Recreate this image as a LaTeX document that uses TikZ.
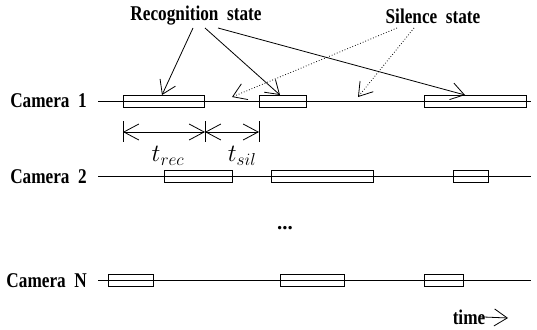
\documentclass[tikz,border=0pt]{standalone}
\usepackage{fontspec}
\setmainfont{Liberation Serif}
\usetikzlibrary{arrows.meta}
\newcommand{\cnd}[1]{\scalebox{0.82}[1]{#1}}
\begin{document}
\begin{tikzpicture}[x=1pt,y=-1pt,
  lbl/.style={font=\fontsize{21}{22}\selectfont\bfseries, inner sep=0pt},
  seg/.style={draw, line width=0.8pt, minimum height=12pt, inner sep=0pt, anchor=west},
  axis/.style={line width=0.8pt},
  tip/.style={-{Straight Barb[length=13pt,width=17pt,line width=0.8pt]}, line width=0.8pt},
  dtip/.style={tip, dotted},
  dim/.style={{Straight Barb[length=15pt,width=16pt,line width=0.8pt]}-{Straight Barb[length=15pt,width=16pt,line width=0.8pt]}, line width=0.8pt},
  mth/.style={font=\fontsize{23}{25}\selectfont, inner sep=0pt}]
\useasboundingbox (0,0) rectangle (537,329);

% titles
\node[lbl] (rs) at (196,16) {\cnd{Recognition\ \ state}};
\node[lbl] (ss) at (433,16) {\cnd{Silence\ \ state}};

% camera labels
\node[lbl, anchor=base east] (cam1) at (87,107) {\cnd{Camera\ \ 1}};
\node[lbl, anchor=base east] (cam2) at (87,183) {\cnd{Camera\ \ 2}};
\node[lbl, anchor=base east] (camN) at (87,287) {\cnd{Camera\ \ N}};

% timelines
\coordinate (l1s) at (98,101);  \coordinate (l1e) at (531,101);
\coordinate (l2s) at (98,176);  \coordinate (l2e) at (531,176);
\coordinate (lNs) at (98,280);  \coordinate (lNe) at (531,280);
\draw[axis] (l1s) -- (l1e);
\draw[axis] (l2s) -- (l2e);
\draw[axis] (lNs) -- (lNe);

% segments camera 1
\node[seg, minimum width=81pt] (c1a) at (123,101) {};
\node[seg, minimum width=47pt] (c1b) at (259,101) {};
\node[seg, minimum width=102pt] (c1c) at (424,101) {};
% segments camera 2
\node[seg, minimum width=68pt] (c2a) at (164,176) {};
\node[seg, minimum width=102pt] (c2b) at (271,176) {};
\node[seg, minimum width=35pt] (c2c) at (453,176) {};
% segments camera N
\node[seg, minimum width=45pt] (cNa) at (108,280) {};
\node[seg, minimum width=64pt] (cNb) at (280,280) {};
\node[seg, minimum width=39pt] (cNc) at (424,280) {};

% arrows from labels
\coordinate (rsA) at (193,28);
\coordinate (rsB) at (205,28);
\coordinate (rsC) at (218,28);
\coordinate (ssA) at (397,28);
\coordinate (ssB) at (414,28);
\coordinate (tA) at (162,95);
\coordinate (tB) at (280,95);
\coordinate (tC) at (465,95);
\coordinate (sA) at (232,97);
\coordinate (sB) at (358,97);
\draw[tip] (rsA) -- (tA);
\draw[tip] (rsB) -- (tB);
\draw[tip] (rsC) -- (tC);
\draw[dtip] (ssA) -- (sA);
\draw[dtip] (ssB) -- (sB);

% dimension lines
\coordinate (k1) at (123,132);
\coordinate (k2) at (205,132);
\coordinate (k3) at (259,132);
\draw[axis] (123,121) -- (123,142);
\draw[axis] (205,121) -- (205,142);
\draw[axis] (259,121) -- (259,142);
\draw[dim] (k1) -- (k2);
\draw[dim] (k2) -- (k3);
\node[mth] (trec) at (168,156) {$t_{rec}$};
\node[mth] (tsil) at (242,156) {$t_{sil}$};

% dots
\node[lbl] (dots) at (285,228) {...};

% time arrow
\node[lbl, anchor=base] (time) at (469,324) {\cnd{time}};
\coordinate (te) at (508,318);
\draw[tip] ([xshift=-6pt]time.east) -- (te);
\end{tikzpicture}
\end{document}
